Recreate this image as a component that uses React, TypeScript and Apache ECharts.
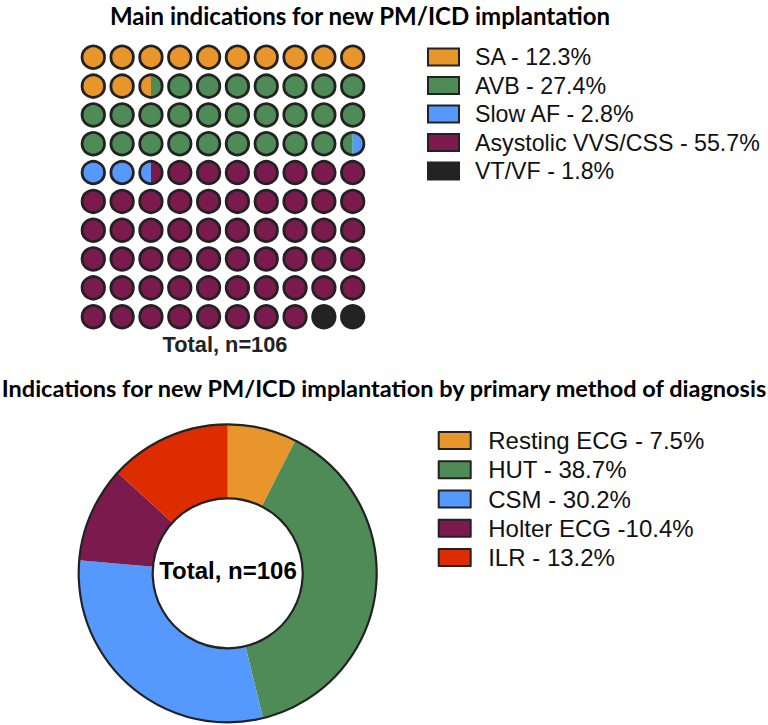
import React, { useEffect, useRef } from 'react';
import * as echarts from 'echarts';

// ---------- data ----------
const waffleTitle = 'Main indications for new PM/ICD implantation';
const donutTitle = 'Indications for new PM/ICD implantation by primary method of diagnosis';
const totalLabel = 'Total, n=106';

const waffleCategories = ['SA', 'AVB', 'Slow AF', 'Asystolic VVS/CSS', 'VT/VF'];
const wafflePercents = [12.3, 27.4, 2.8, 55.7, 1.8];
const waffleLegendLabels = ['SA - 12.3%', 'AVB - 27.4%', 'Slow AF - 2.8%', 'Asystolic VVS/CSS - 55.7%', 'VT/VF - 1.8%'];

const donutCategories = ['Resting ECG', 'HUT', 'CSM', 'Holter ECG', 'ILR'];
const donutPercents = [7.5, 38.7, 30.2, 10.4, 13.2];
const donutLegendLabels = ['Resting ECG - 7.5%', 'HUT - 38.7%', 'CSM - 30.2%', 'Holter ECG -10.4%', 'ILR - 13.2%'];

// ---------- styles ----------
const waffleColors = ['#E8962B', '#4F8B57', '#5599FF', '#7A1A4D', '#232323'];
const donutColors = ['#E8962B', '#4F8B57', '#5599FF', '#7A1A4D', '#DD2C00'];
const GRID_N = 10; // 10 x 10 waffle
const CELL_STEP = 0.5; // waffle resolution: half a circle
const OUTLINE = '#222222';

function buildWaffleCells(): number[][][] {
  const out: number[][][] = [];
  let cum = 0;
  wafflePercents.forEach((p) => {
    const start = Math.round(cum / CELL_STEP) * CELL_STEP;
    cum += p;
    const end = Math.round(cum / CELL_STEP) * CELL_STEP;
    const cells: number[][] = [];
    for (let i = Math.floor(start); i < Math.ceil(end); i++) {
      const a = Math.max(start, i) - i;
      const b = Math.min(end, i + 1) - i;
      if (b - a > 1e-6) cells.push([i % GRID_N, Math.floor(i / GRID_N), a, b]);
    }
    out.push(cells);
  });
  return out;
}

const renderStrip = (params: any, api: any) => {
  const c = api.coord([api.value(0), api.value(1)]);
  const s = api.size([1, 1]);
  const r = Math.min(s[0], s[1]) * 0.405;
  const a = api.value(2);
  const b = api.value(3);
  const color = api.visual('color');
  if (a <= 1e-6 && b >= 1 - 1e-6) {
    return { type: 'circle', shape: { cx: c[0], cy: c[1], r }, style: { fill: color } };
  }
  const tl = Math.acos(Math.max(-1, Math.min(1, 2 * a - 1)));
  const tr = Math.acos(Math.max(-1, Math.min(1, 2 * b - 1)));
  const N = 30;
  const pts: number[][] = [];
  for (let j = 0; j <= N; j++) {
    const t = tl + ((tr - tl) * j) / N;
    pts.push([c[0] + r * Math.cos(t), c[1] - r * Math.sin(t)]);
  }
  for (let j = 0; j <= N; j++) {
    const t = tr + ((tl - tr) * j) / N;
    pts.push([c[0] + r * Math.cos(t), c[1] + r * Math.sin(t)]);
  }
  return { type: 'polygon', shape: { points: pts }, style: { fill: color } };
};

const renderOutline = (params: any, api: any) => {
  const c = api.coord([api.value(0), api.value(1)]);
  const s = api.size([1, 1]);
  const r = Math.min(s[0], s[1]) * 0.39;
  return {
    type: 'circle',
    shape: { cx: c[0], cy: c[1], r },
    style: { fill: 'none', stroke: OUTLINE, lineWidth: 2.8 },
  };
};

export default function App() {
  const ref = useRef<HTMLDivElement>(null);

  useEffect(() => {
    if (!ref.current) return;
    const chart = echarts.init(ref.current, undefined, { renderer: 'svg' });
    const cells = buildWaffleCells();
    const allCells: number[][] = [];
    for (let i = 0; i < GRID_N * GRID_N; i++) allCells.push([i % GRID_N, Math.floor(i / GRID_N)]);

    const waffleSeries = waffleLegendLabels.map((label, k) => ({
      type: 'custom',
      name: label,
      xAxisIndex: 0,
      yAxisIndex: 0,
      renderItem: renderStrip,
      encode: { x: 0, y: 1 },
      itemStyle: { color: waffleColors[k] },
      data: cells[k],
      silent: true,
      clip: false,
      z: 2,
    }));

    const option: any = {
      animation: false,
      backgroundColor: '#ffffff',
      grid: [{ left: 78.9, top: 42.9, width: 288.2, height: 288.2 }],
      xAxis: [{ type: 'value', min: -0.5, max: GRID_N - 0.5, show: false }],
      yAxis: [{ type: 'value', min: -0.5, max: GRID_N - 0.5, inverse: true, show: false }],
      legend: [
        {
          data: waffleLegendLabels,
          orient: 'vertical',
          left: 427,
          top: 42.75,
          itemWidth: 31,
          itemHeight: 17,
          itemGap: 0,
          padding: 0,
          icon: 'rect',
          selectedMode: false,
          itemStyle: { borderColor: OUTLINE, borderWidth: 2 },
          textStyle: {
            fontFamily: 'Liberation Sans',
            fontSize: 23.2,
            lineHeight: 28.5,
            color: '#111111',
            padding: [0, 0, 0, 11],
          },
        },
        {
          data: donutLegendLabels,
          orient: 'vertical',
          left: 437.7,
          top: 425.75,
          itemWidth: 32,
          itemHeight: 17,
          itemGap: 0,
          padding: 0,
          icon: 'rect',
          selectedMode: false,
          itemStyle: { borderColor: OUTLINE, borderWidth: 2 },
          textStyle: {
            fontFamily: 'Liberation Sans',
            fontSize: 24,
            lineHeight: 29.3,
            color: '#111111',
            padding: [0, 0, 0, 12.5],
          },
        },
      ],
      graphic: [
        {
          type: 'text',
          x: 360,
          y: 15,
          style: {
            text: waffleTitle,
            font: 'bold 24px Lato',
            fill: '#000',
            textAlign: 'center',
            textVerticalAlign: 'middle',
          },
        },
        {
          type: 'text',
          x: 384,
          y: 388,
          style: {
            text: donutTitle,
            font: 'bold 23.5px Lato',
            fill: '#000',
            textAlign: 'center',
            textVerticalAlign: 'middle',
          },
        },
        {
          type: 'text',
          x: 225,
          y: 344.5,
          style: {
            text: totalLabel,
            font: 'bold 21.8px "Liberation Sans"',
            fill: '#222',
            textAlign: 'center',
            textVerticalAlign: 'middle',
          },
        },
        {
          type: 'text',
          x: 228,
          y: 570,
          z: 10,
          style: {
            text: totalLabel,
            font: 'bold 24px "Liberation Sans"',
            fill: '#000',
            textAlign: 'center',
            textVerticalAlign: 'middle',
          },
        },
      ],
      series: [
        ...waffleSeries,
        {
          type: 'custom',
          name: 'outline',
          xAxisIndex: 0,
          yAxisIndex: 0,
          renderItem: renderOutline,
          encode: { x: 0, y: 1 },
          data: allCells,
          silent: true,
          clip: false,
          z: 3,
        },
        {
          type: 'pie',
          name: 'diagnosis',
          center: [227.7, 573.3],
          radius: [75, 149],
          startAngle: 90,
          clockwise: true,
          silent: true,
          label: { show: false },
          labelLine: { show: false },
          emphasis: { disabled: true },
          itemStyle: { borderWidth: 0 },
          data: donutLegendLabels.map((name, i) => ({
            name,
            value: donutPercents[i],
            itemStyle: { color: donutColors[i] },
          })),
        },
        {
          type: 'pie',
          name: 'ring',
          center: [227.7, 573.3],
          radius: [75, 149],
          silent: true,
          z: 3,
          label: { show: false },
          labelLine: { show: false },
          emphasis: { disabled: true },
          itemStyle: { color: 'rgba(0,0,0,0)', borderColor: OUTLINE, borderWidth: 2.2 },
          data: [{ name: 'ring-outline', value: 1 }],
        },
      ],
    };
    chart.setOption(option);
    return () => chart.dispose();
  }, []);

  return (
    <div
      ref={ref}
      style={{ position: 'absolute', left: 0, top: 0, width: 768, height: 725 }}
    />
  );
}
